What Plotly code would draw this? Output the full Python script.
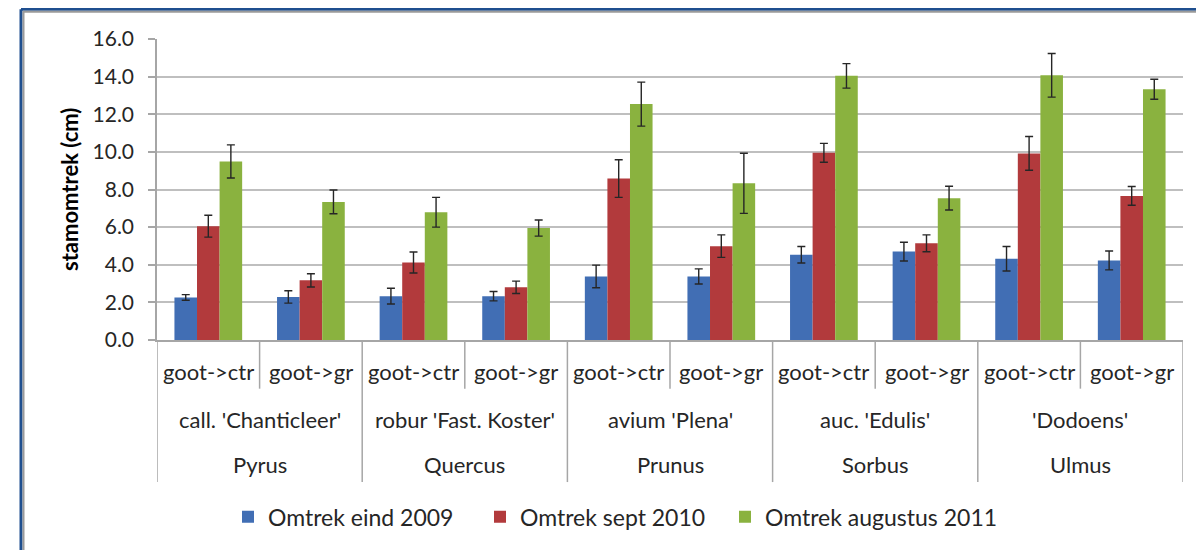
import plotly.graph_objects as go

# ---- data ----
species = ["Pyrus", "Quercus", "Prunus", "Sorbus", "Ulmus"]
cultivars = ["call. 'Chanticleer'", "robur 'Fast. Koster'", "avium 'Plena'", "auc. 'Edulis'", "'Dodoens'"]
treatments = ["goot->ctr", "goot->gr"]

series_names = ["Omtrek eind 2009", "Omtrek sept 2010", "Omtrek augustus 2011"]
v2009 = [2.26, 2.29, 2.33, 2.33, 3.38, 3.38, 4.53, 4.70, 4.32, 4.23]
e2009 = [0.15, 0.33, 0.42, 0.25, 0.60, 0.40, 0.44, 0.50, 0.65, 0.50]
v2010 = [6.05, 3.17, 4.12, 2.80, 8.58, 4.99, 9.95, 5.14, 9.92, 7.66]
e2010 = [0.58, 0.35, 0.56, 0.33, 1.00, 0.60, 0.50, 0.45, 0.90, 0.50]
v2011 = [9.49, 7.34, 6.79, 5.95, 12.54, 8.33, 14.04, 7.54, 14.07, 13.33]
e2011 = [0.88, 0.63, 0.79, 0.43, 1.17, 1.60, 0.65, 0.63, 1.16, 0.53]

colors = ["#416EB4", "#B23A3C", "#8AB23F"]

# ---- layout geometry (screen pixels; page has an 8px body margin) ----
OFF = 8
W, H = 1204 - OFF, 550 - OFF
PL, PR, PT, PB = 157, 1183, 39, 342  # plot area on screen
ML, MR, MT = PL - OFF, W - (PR - OFF), PT - OFF
MB = H - (PB - OFF)
PW, PH = PR - PL, PB - PT
FONT = "Lato, 'Open Sans', sans-serif"


def py(Y):  # screen pixel y -> paper y
    return (PB - Y) / PH


def pxp(X):  # screen pixel x -> paper x
    return (X - PL) / PW


n_cat = len(species) * len(treatments)
xs = list(range(n_cat))
legend_ids = ["legend", "legend2", "legend3"]
legend_text_x = [270, 522, 767]

fig = go.Figure()
for name, vals, errs, col, lg in zip(series_names, [v2009, v2010, v2011], [e2009, e2010, e2011], colors, legend_ids):
    fig.add_trace(go.Bar(
        x=xs, y=vals, name=name, legend=lg, marker=dict(color=col, line=dict(width=0)),
        error_y=dict(type="data", array=errs, visible=True, color="#262626", thickness=1.4, width=4),
    ))

shapes = []
annotations = []
grid_col = "#A6A6A6"
txt_col = "#262626"
for b in range(n_cat + 1):
    xb = b - 0.5
    long_ = (b % len(treatments) == 0)
    shapes.append(dict(type="line", xref="x", yref="paper", x0=xb, x1=xb,
                       y0=0, y1=py(485 if long_ else 391), line=dict(color=grid_col, width=1.5)))
for i in xs:
    annotations.append(dict(x=i, y=py(374), xref="x", yref="paper", text=treatments[i % 2],
                            xanchor="center", yanchor="middle",
                            showarrow=False, font=dict(family=FONT, size=22, color=txt_col)))
for g in range(len(species)):
    xc = g * 2 + 0.5
    annotations.append(dict(x=xc, y=py(422), xref="x", yref="paper", text=cultivars[g],
                            xanchor="center", yanchor="middle",
                            showarrow=False, font=dict(family=FONT, size=22, color=txt_col)))
    annotations.append(dict(x=xc, y=py(467), xref="x", yref="paper", text=species[g],
                            xanchor="center", yanchor="middle",
                            showarrow=False, font=dict(family=FONT, size=22, color=txt_col)))
annotations.append(dict(x=pxp(70), y=py(191), xref="paper", yref="paper", text="<b>stamomtrek (cm)</b>",
                        xanchor="center", yanchor="middle",
                        textangle=-90, showarrow=False, font=dict(family=FONT, size=22, color="#000000")))
# outer frame (blue border with grey shadow)
shapes.append(dict(type="line", xref="paper", yref="paper", x0=pxp(21), x1=pxp(1210), y0=py(9), y1=py(9),
                   line=dict(color="#1F4F8F", width=3)))
shapes.append(dict(type="line", xref="paper", yref="paper", x0=pxp(21), x1=pxp(21), y0=py(9), y1=py(560),
                   line=dict(color="#1F4F8F", width=3)))
shapes.append(dict(type="line", xref="paper", yref="paper", x0=pxp(23), x1=pxp(1210), y0=py(11.5), y1=py(11.5),
                   line=dict(color="#9A9A9A", width=2)))
shapes.append(dict(type="line", xref="paper", yref="paper", x0=pxp(23.5), x1=pxp(23.5), y0=py(11), y1=py(560),
                   line=dict(color="#9A9A9A", width=2)))

legend_common = dict(orientation="h", xanchor="left", yanchor="middle", y=py(520),
                     font=dict(family=FONT, size=23, color=txt_col), itemwidth=30,
                     bgcolor="rgba(0,0,0,0)")

fig.update_layout(
    width=W, height=H,
    margin=dict(l=ML, r=MR, t=MT, b=MB),
    paper_bgcolor="white", plot_bgcolor="white",
    barmode="group", bargap=0.34, bargroupgap=0,
    font=dict(family=FONT, size=22, color=txt_col),
    showlegend=True,
    legend=dict(x=pxp(legend_text_x[0] - 42), **legend_common),
    legend2=dict(x=pxp(legend_text_x[1] - 42), **legend_common),
    legend3=dict(x=pxp(legend_text_x[2] - 42), **legend_common),
    shapes=shapes, annotations=annotations,
    xaxis=dict(range=[-0.5, n_cat - 0.5], showticklabels=False, showgrid=False, zeroline=False,
               showline=True, linecolor=grid_col, linewidth=1.5, ticks=""),
    yaxis=dict(range=[0, 16], dtick=2, tickformat=".1f", showgrid=True, gridcolor="#BFBFBF", gridwidth=1.6,
               zeroline=False, showline=True, linecolor=grid_col, linewidth=1.5,
               ticks="outside", ticklen=7, tickcolor=grid_col, tickwidth=1.5, ticklabelstandoff=10,
               tickfont=dict(family=FONT, size=21, color=txt_col)),
)

fig.write_html("out.html")
